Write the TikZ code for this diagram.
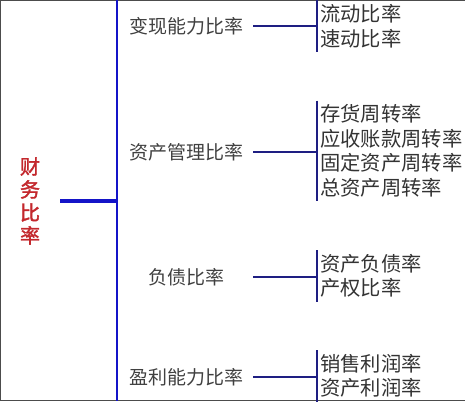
\documentclass[tikz,border=0pt]{standalone}
\usepackage{fontspec,xcolor}
\usetikzlibrary{positioning,calc}
\newfontfamily\cjk[AutoFakeBold=2]{Noto Sans CJK SC}
\definecolor{rootred}{RGB}{195,40,45}
\definecolor{stemblue}{RGB}{20,20,200}
\definecolor{brnavy}{RGB}{30,30,130}

\begin{document}
\begin{tikzpicture}[x=1pt,y=-1pt,
  every node/.style={font=\cjk\fontsize{19}{24.5}\selectfont,inner sep=0pt},
  cat/.style={text=black!75,minimum width=134pt},
  leaf/.style={text=black!80,font=\cjk\fontsize{20.3}{24.5}\selectfont,align=left,anchor=west,inner xsep=3pt,inner ysep=4pt},
  br/.style={draw=brnavy,line width=2.7pt}]
\useasboundingbox (0,0) rectangle (465,401);
\draw[black!70,line width=1.2pt] (465,0.6)--(0.6,0.6)--(0.6,400.4)--(465,400.4);
\node[text=rootred,font=\cjk\bfseries\fontsize{20}{23}\selectfont,align=center,inner xsep=20pt] (root) at (30,201) {财\\务\\比\\率};
\coordinate (stemtop) at (117,0);
\coordinate (stembot) at (117,401);
\draw[stemblue,line width=2.8pt] (stemtop)--(stembot);
\draw[stemblue,line width=3.2pt] (root.east)--(root.east -| stemtop);
% categories and their ratios
\node[cat] (liq) at (186,26) {变现能力比率};
\node[cat] (mgmt) at (186,152) {资产管理比率};
\node[cat] (debt) at (186,277) {负债比率};
\node[cat] (prof) at (186,377) {盈利能力比率};
\node[leaf] (liqr) at (317,26) {流动比率\\速动比率};
\node[leaf] (mgmtr) at (317,151) {存货周转率\\应收账款周转率\\固定资产周转率\\总资产周转率};
\node[leaf] (debtr) at (317,276) {资产负债率\\产权比率};
\node[leaf] (profr) at (317,376) {销售利润率\\资产利润率};
\foreach \c/\r in {liq/liqr,mgmt/mgmtr,debt/debtr,prof/profr}{
  \draw[br] (\r.north west)--(\r.south west);
  \draw[br] (\c.east)--(\c.east -| \r.west);
}
\end{tikzpicture}
\end{document}
